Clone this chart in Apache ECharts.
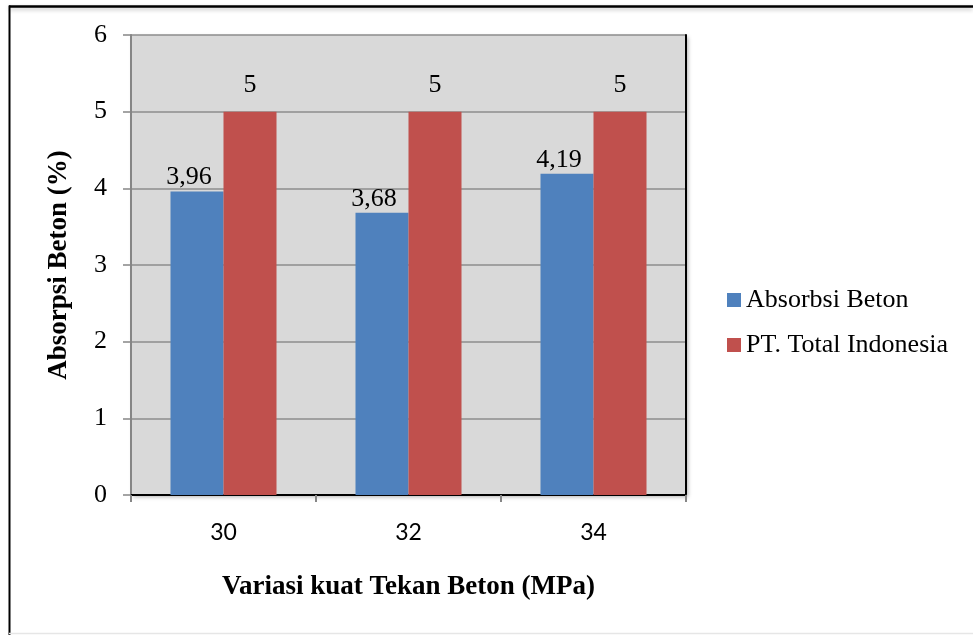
<!DOCTYPE html>
<html>
<head>
<meta charset="utf-8">
<script src="https://cdn.jsdelivr.net/npm/echarts@6/dist/echarts.min.js"></script>
<style>
html,body{margin:0;padding:0;background:#fff;}
#chart{width:973px;height:635px;}
</style>
</head>
<body>
<div id="chart"></div>
<script>
var categories = ['30', '32', '34'];
var absorbsiBeton = [3.96, 3.68, 4.19];
var ptTotalIndonesia = [5, 5, 5];
var seriesNames = ['Absorbsi Beton', 'PT. Total Indonesia'];
var yTitle = 'Absorpsi Beton (%)';
var xTitle = 'Variasi kuat Tekan Beton (MPa)';

var serif = '"Liberation Serif", "Times New Roman", serif';
var fmt = function (p) { return String(p.value).replace('.', ','); };

var chart = echarts.init(document.getElementById('chart'), null, {renderer: 'canvas'});
chart.setOption({
  animation: false,
  backgroundColor: '#fff',
  graphic: [
    {type: 'line', shape: {x1: 9, y1: 6.5, x2: 973, y2: 6.5}, style: {stroke: '#000', lineWidth: 2.5, shadowColor: 'rgba(0,0,0,0.25)', shadowBlur: 4, shadowOffsetY: 2}, z: 10},
    {type: 'line', shape: {x1: 9.5, y1: 5.5, x2: 9.5, y2: 635}, style: {stroke: '#000', lineWidth: 2}, z: 10},
    {type: 'line', shape: {x1: 9, y1: 633.5, x2: 973, y2: 633.5}, style: {stroke: '#e6e6e6', lineWidth: 1.5}, z: 10}
  ],
  grid: {
    left: 131, right: 287, top: 35, bottom: 140,
    show: true, backgroundColor: '#d9d9d9', borderWidth: 0,
    shadowColor: 'rgba(0,0,0,0.3)', shadowBlur: 4, shadowOffsetX: 2, shadowOffsetY: 2
  },
  legend: {
    orient: 'vertical', left: 727, top: 286, padding: 0,
    itemWidth: 14, itemHeight: 14, itemGap: 17, icon: 'rect',
    textStyle: {fontFamily: serif, fontSize: 26, lineHeight: 28, color: '#000'},
    data: seriesNames
  },
  xAxis: [{
    type: 'category', data: categories, position: 'bottom',
    axisLine: {lineStyle: {color: '#868686', width: 2}},
    axisTick: {show: true, length: 7, lineStyle: {color: '#868686', width: 2}},
    axisLabel: {fontFamily: 'Lato, "Open Sans", sans-serif', fontSize: 23, color: '#000', margin: 26},
    name: xTitle, nameLocation: 'middle', nameGap: 79,
    nameTextStyle: {fontFamily: serif, fontWeight: 'bold', fontSize: 27, color: '#000'}
  }, {
    type: 'category', data: categories, position: 'top',
    axisLine: {lineStyle: {color: '#000', width: 2}},
    axisTick: {show: false}, axisLabel: {show: false}
  }],
  yAxis: [{
    type: 'value', min: 0, max: 6, interval: 1, position: 'left',
    axisLine: {show: true, lineStyle: {color: '#868686', width: 2}},
    axisTick: {show: true, length: 8, lineStyle: {color: '#868686', width: 1.5}},
    axisLabel: {fontFamily: serif, fontSize: 26, color: '#000', margin: 24},
    splitLine: {show: true, lineStyle: {color: '#8c8c8c', width: 1.5}},
    name: yTitle, nameLocation: 'middle', nameGap: 58, nameRotate: 90,
    nameTextStyle: {fontFamily: serif, fontWeight: 'bold', fontSize: 27, color: '#000'}
  }, {
    type: 'value', min: 0, max: 6, interval: 1, position: 'right',
    axisLine: {show: true, lineStyle: {color: '#000', width: 2}},
    axisTick: {show: false}, axisLabel: {show: false}, splitLine: {show: false}
  }],
  series: [{
    name: seriesNames[0], type: 'bar', data: absorbsiBeton,
    xAxisIndex: 0, yAxisIndex: 0,
    barWidth: 53, barGap: '0%',
    itemStyle: {color: '#4F81BD'},
    label: {show: true, position: 'top', distance: 1, offset: [-8, 0], formatter: fmt,
      fontFamily: serif, fontSize: 26, color: '#000'}
  }, {
    name: seriesNames[1], type: 'bar', data: ptTotalIndonesia,
    xAxisIndex: 0, yAxisIndex: 0,
    barWidth: 53, barGap: '0%',
    itemStyle: {color: '#C0504D'},
    label: {show: true, position: 'top', distance: 13, formatter: fmt,
      fontFamily: serif, fontSize: 26, color: '#000'}
  }]
});
</script>
</body>
</html>
